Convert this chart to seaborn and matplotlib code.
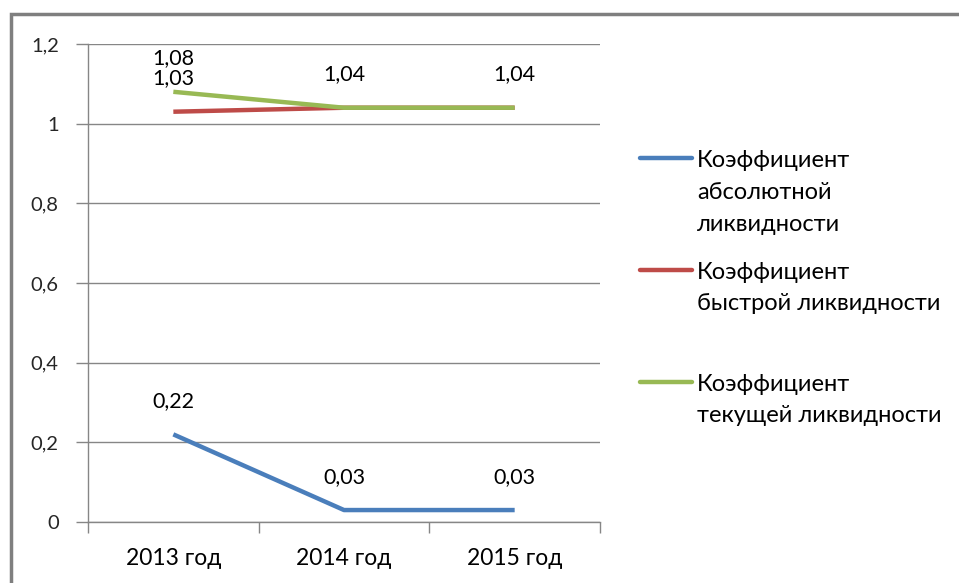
import matplotlib
matplotlib.use("Agg")
import matplotlib.pyplot as plt
from matplotlib.lines import Line2D
from matplotlib.patches import Rectangle
from matplotlib.ticker import FixedLocator, FuncFormatter
import pandas as pd
import seaborn as sns

years = ["2013 год", "2014 год", "2015 год"]
series_names = [
    "Коэффициент\nабсолютной\nликвидности",
    "Коэффициент\nбыстрой ликвидности",
    "Коэффициент\nтекущей ликвидности",
]
absolute_liq = [0.22, 0.03, 0.03]
quick_liq = [1.03, 1.04, 1.04]
current_liq = [1.08, 1.04, 1.04]
colors = ["#4A7EBB", "#BE4B48", "#98B954"]

values = [absolute_liq, quick_liq, current_liq]
df = pd.DataFrame(
    [
        {"year": y, "pos": i, "series": name, "value": v}
        for name, vals in zip(series_names, values)
        for i, (y, v) in enumerate(zip(years, vals))
    ]
)

sns.set_theme(style="white")
plt.rcParams["font.family"] = ["Lato", "DejaVu Sans"]

W, H = 959, 583
fig = plt.figure(figsize=(W / 100, H / 100), dpi=100)
ax = fig.add_axes([88 / W, 1 - 522 / H, (600 - 88) / W, (522 - 44) / H])

sns.lineplot(
    data=df, x="pos", y="value", hue="series", hue_order=series_names,
    palette=colors, linewidth=3.2, ax=ax, legend=False, sort=False,
)
for ln in ax.lines:
    ln.set_solid_capstyle("butt")

ax.set_xlim(-0.5, 2.5)
ax.set_ylim(0, 1.2)
ax.set_xlabel("")
ax.set_ylabel("")

grid_c = "#868686"
ax.set_yticks([0, 0.2, 0.4, 0.6, 0.8, 1.0, 1.2])
ax.yaxis.set_major_formatter(FuncFormatter(lambda v, p: f"{v:g}".replace(".", ",")))
ax.yaxis.grid(True, color=grid_c, linewidth=1)
ax.set_xticks(range(len(years)))
ax.set_xticklabels(years)
ax.xaxis.set_minor_locator(FixedLocator([-0.5, 0.5, 1.5, 2.5]))
ax.tick_params(axis="x", which="major", length=0, pad=19, labelsize=16.5, colors="black")
ax.tick_params(axis="x", which="minor", length=8, width=1, color=grid_c, bottom=True)
ax.tick_params(axis="y", which="major", length=9, width=1, color=grid_c, left=True,
               pad=12, labelsize=14.5)
for s in ["top", "right"]:
    ax.spines[s].set_visible(False)
for s in ["left", "bottom"]:
    ax.spines[s].set_color(grid_c)
    ax.spines[s].set_linewidth(1)
ax.set_facecolor("white")

# Value labels above each point (coinciding values labelled once)
seen = set()
for vals in values:
    for i, v in enumerate(vals):
        key = (i, round(v, 4))
        if key in seen:
            continue
        seen.add(key)
        ax.annotate(f"{v:.2f}".replace(".", ","), (i, v), xytext=(0, 24),
                    textcoords="offset points", ha="center", va="center",
                    fontsize=15.5, color="black")

# Legend: swatch level with the first text line
leg_y = [158, 270, 382]
line_step = 32
for name, c, yy in zip(series_names, colors, leg_y):
    fig.add_artist(Line2D([640 / W, 692 / W], [1 - yy / H, 1 - yy / H],
                          color=c, linewidth=3.2, solid_capstyle="round"))
    n_lines = name.count("\n") + 1
    last_base = yy + 8.5 + (n_lines - 1) * line_step
    fig.text(697 / W, 1 - last_base / H, name, ha="left", va="baseline",
             fontsize=17, linespacing=1.64, color="black")

# Outer frame
fig.add_artist(Rectangle((11 / W, -0.1), 1.2, 1 - 14 / H + 0.1, fill=False,
                         edgecolor="#7F7F7F", linewidth=2.5,
                         transform=fig.transFigure))

fig.savefig("out.png", dpi=100, facecolor="white")
